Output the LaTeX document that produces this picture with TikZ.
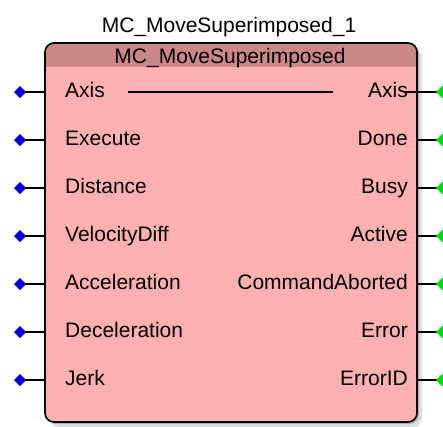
\documentclass[tikz,border=0pt]{standalone}
\usepackage{fontspec}
\setmainfont{Liberation Sans}
\definecolor{bodypink}{RGB}{255,176,176}
\definecolor{headpink}{RGB}{204,136,136}
\definecolor{pinblue}{RGB}{0,0,230}
\definecolor{pingreen}{RGB}{0,220,0}
\begin{document}
\begin{tikzpicture}[x=1pt,y=1pt,
  lbl/.style={font=\fontsize{21}{24}\selectfont, inner sep=0pt},
  wire/.style={line width=1.3pt, black}]
\useasboundingbox (0,0) rectangle (443,-426);
% shadow
\fill[black!12, rounded corners=9pt] (50,-48) rectangle (422,-427);
\fill[black!30, rounded corners=9pt] (47,-45) rectangle (419,-424);
% body
\begin{scope}
  \clip[rounded corners=9pt] (45,-43) rectangle (417,-422);
  \fill[bodypink] (45,-43) rectangle (417,-422);
  \fill[headpink] (45,-43) rectangle (417,-67);
\end{scope}
\draw[line width=1.6pt, rounded corners=9pt] (45,-43) rectangle (417,-422);
% titles
\node[lbl, anchor=base] (title) at (229,-32) {MC\_MoveSuperimposed\_1};
\node[lbl, anchor=base] (type) at (230,-63) {MC\_MoveSuperimposed};
% inputs
\foreach \name [count=\i] in {Axis,Execute,Distance,VelocityDiff,Acceleration,Deceleration,Jerk}{
  \pgfmathsetmacro{\yy}{-92-48*(\i-1)}
  \coordinate (in\i) at (20,\yy);
  \coordinate (inb\i) at (45,\yy);
  \draw[wire] (in\i) -- (inb\i);
  \fill[pinblue] (in\i) ++(-6,0) -- ++(6,6) -- ++(6,-6) -- ++(-6,-6) -- cycle;
  \node[lbl, anchor=base west] (inl\i) at (65,\yy-5) {\name};
}
% outputs
\foreach \name [count=\i] in {Done,Busy,Active,CommandAborted,Error,ErrorID}{
  \pgfmathsetmacro{\yy}{-92-48*\i}
  \coordinate (out\i) at (442,\yy);
  \coordinate (outb\i) at (417,\yy);
  \draw[wire] (outb\i) -- (out\i);
  \fill[pingreen] (out\i) ++(-6,0) -- ++(6,6) -- ++(6,-6) -- ++(-6,-6) -- cycle;
  \node[lbl, anchor=base east] (outl\i) at (408,\yy-5) {\name};
}
% Axis in/out
\coordinate (out0) at (442,-92);
\coordinate (outb0) at (404,-92);
\draw[wire] (outb0) -- (out0);
\fill[pingreen] (out0) ++(-6,0) -- ++(6,6) -- ++(6,-6) -- ++(-6,-6) -- cycle;
\node[lbl, anchor=base east] (outl0) at (408,-97) {Axis};
\coordinate (axa) at (128,-92);
\coordinate (axb) at (333,-92);
\draw[wire] (axa) -- (axb);
\end{tikzpicture}
\end{document}
